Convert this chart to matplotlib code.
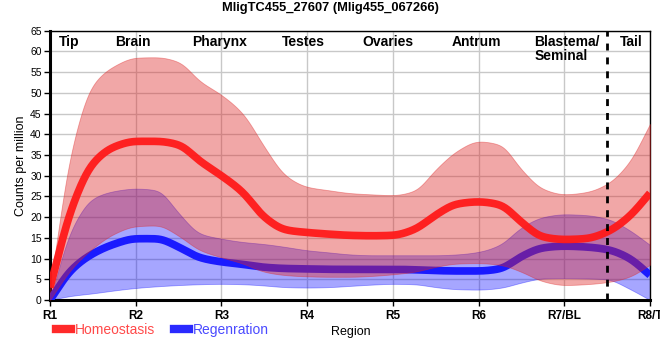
import matplotlib
matplotlib.use("Agg")
import matplotlib.pyplot as plt
import numpy as np
from matplotlib.lines import Line2D

plt.rcParams["font.family"] = ["Liberation Sans", "DejaVu Sans"]

# sample positions along the body (0 = R1 ... 7 = R8/T), quarter steps
POS = np.arange(0, 7.01, 0.25)

REGION_TICKS = ["R1", "R2", "R3", "R4", "R5", "R6", "R7/BL", "R8/T"]
SECTIONS = ["Tip", "Brain", "Pharynx", "Testes", "Ovaries", "Antrum", "Blastema/\nSeminal", "Tail"]
SECTION_X = [0.22, 0.97, 1.98, 2.96, 3.94, 4.98, 5.65, 6.78]
SECTION_HA = ["center"] * 6 + ["left", "center"]

homeo_mean = [3, 22, 33, 37, 38.3, 38.3, 37.5, 33.5, 30, 26, 20, 16.9, 16.3, 15.9, 15.6,
              15.5, 15.6, 17, 20.5, 23.2, 23.7, 23, 18.8, 15.2, 14.6, 14.8, 16.4, 20, 25.8]
homeo_hi = [3, 36, 52, 56.5, 58.5, 58.6, 57.5, 52.8, 49.5, 45, 37, 30, 27.3, 26.5, 25.8,
            25.5, 25.3, 26.3, 31.5, 36, 38.3, 37.5, 31.5, 26.8, 25.5, 26, 28, 33, 42.5]
homeo_lo = [0, 7.5, 12.5, 16, 17.8, 18, 15.5, 12, 10.3, 8.8, 6.8, 6, 5.7, 5.6, 5.6,
            5.8, 6.2, 6.8, 8, 8.8, 8.9, 8.5, 6.8, 4.5, 3.6, 3.8, 4.3, 5.5, 8.5]

regen_mean = [0, 7.3, 11.2, 13.5, 14.8, 14.8, 12.8, 10.2, 9.2, 8.6, 7.9, 7.6, 7.5, 7.4, 7.4,
              7.4, 7.4, 7.3, 7.1, 7.0, 7.0, 7.5, 10.5, 12.6, 13, 12.8, 12.2, 10.2, 6]
regen_hi = [0, 17, 24.5, 26.3, 26.9, 26.5, 21, 16, 14.8, 14, 13.5, 12.8, 12, 11.5, 11,
            10.8, 10.8, 10.8, 10.8, 11, 11.6, 13.3, 17.5, 20, 20.7, 20.5, 19.6, 17, 13.3]
regen_lo = [0, 1, 1.6, 2.3, 2.9, 3.3, 3.6, 3.8, 3.9, 3.8, 3.5, 3.1, 3.0, 3.1, 3.4,
            3.7, 3.9, 3.8, 3.1, 2.6, 2.5, 2.9, 4.2, 5.2, 5.3, 5.2, 5.0, 2.8, 0]


def monotone(x, y, xs):
    # Fritsch-Carlson monotone cubic
    x = np.asarray(x, float)
    y = np.asarray(y, float)
    h = np.diff(x)
    d = np.diff(y) / h
    m = np.zeros_like(y)
    m[0], m[-1] = d[0], d[-1]
    for k in range(1, len(y) - 1):
        if d[k - 1] * d[k] <= 0:
            m[k] = 0.0
        else:
            w1 = 2 * h[k] + h[k - 1]
            w2 = h[k] + 2 * h[k - 1]
            m[k] = (w1 + w2) / (w1 / d[k - 1] + w2 / d[k])
    idx = np.clip(np.searchsorted(x, xs) - 1, 0, len(x) - 2)
    t = (xs - x[idx]) / h[idx]
    h00 = 2 * t**3 - 3 * t**2 + 1
    h10 = t**3 - 2 * t**2 + t
    h01 = -2 * t**3 + 3 * t**2
    h11 = t**3 - t**2
    return h00 * y[idx] + h10 * h[idx] * m[idx] + h01 * y[idx + 1] + h11 * h[idx] * m[idx + 1]


xs = np.linspace(0, 7, 701)


def curve(vals):
    # monotone interpolation, then a light gaussian blur to round off corners
    y = monotone(POS, vals, xs)
    k = np.exp(-0.5 * (np.arange(-20, 21) / 5.5) ** 2)
    k /= k.sum()
    pad = np.concatenate([2 * y[0] - y[20:0:-1], y, 2 * y[-1] - y[-2:-22:-1]])
    return np.convolve(pad, k, mode="valid")


fig = plt.figure(figsize=(6.6, 3.6), dpi=100)
ax = fig.add_axes([0.0758, 0.1667, 0.909, 0.748])

ax.fill_between(xs, curve(regen_lo), curve(regen_hi),
                color="#0000ff", alpha=0.35, lw=0.6, zorder=2)
ax.plot(xs, curve(regen_mean), color="#1a1aff", lw=5.5,
        solid_capstyle="butt", zorder=3)
ax.fill_between(xs, curve(homeo_lo), curve(homeo_hi),
                color="#de2525", alpha=0.4, lw=0.6, zorder=4)
ax.plot(xs, curve(homeo_mean), color="#ff1a1a", lw=5.5, alpha=0.95,
        solid_capstyle="butt", zorder=5)

ax.axvline(6.5, color="black", lw=2, ls=(0, (2.5, 2.5)), zorder=6)

for sx, txt, ha in zip(SECTION_X, SECTIONS, SECTION_HA):
    ax.text(sx, 64.0, txt, ha=ha, va="top", fontsize=10, fontweight="bold",
            linespacing=1.0, zorder=7)

ax.set_xlim(0, 7)
ax.set_ylim(0, 65)
ax.set_xticks(range(8))
ax.set_xticklabels(REGION_TICKS, fontsize=8.5, fontweight="bold")
ax.set_yticks(range(0, 66, 5))
ax.tick_params(axis="y", labelsize=7.5, length=4, width=1, pad=2)
ax.tick_params(axis="x", length=4, width=1, pad=3)
ax.grid(True, color="#c8c8c8", lw=1, zorder=0)
ax.set_axisbelow(True)
for side in ["top", "right"]:
    ax.spines[side].set_linewidth(1)
for side in ["left", "bottom"]:
    ax.spines[side].set_linewidth(2.2)

ax.set_ylabel("Counts per million", fontsize=9, labelpad=2)
fig.text(351 / 660, 1 - 332 / 360, "Region", ha="center", va="center", fontsize=9)
fig.text(0.5, 1 - 8 / 360, "MligTC455_27607 (Mlig455_067266)", ha="center", va="center",
         fontsize=9.3, fontweight="bold")

handles = [Line2D([0], [0], color="#ff2a2a", lw=6),
           Line2D([0], [0], color="#2a2aff", lw=6)]
fig.legend(handles, ["Homeostasis", "Regenration"], loc="center left",
           bbox_to_anchor=(53 / 660, 1 - 330 / 360), ncol=2, frameon=False,
           fontsize=10, handlelength=1.1, handletextpad=0.3, columnspacing=1.3,
           labelcolor=["#ff4a4a", "#4a4aff"], borderaxespad=0, borderpad=0.2)

fig.savefig("out.png", dpi=100)
